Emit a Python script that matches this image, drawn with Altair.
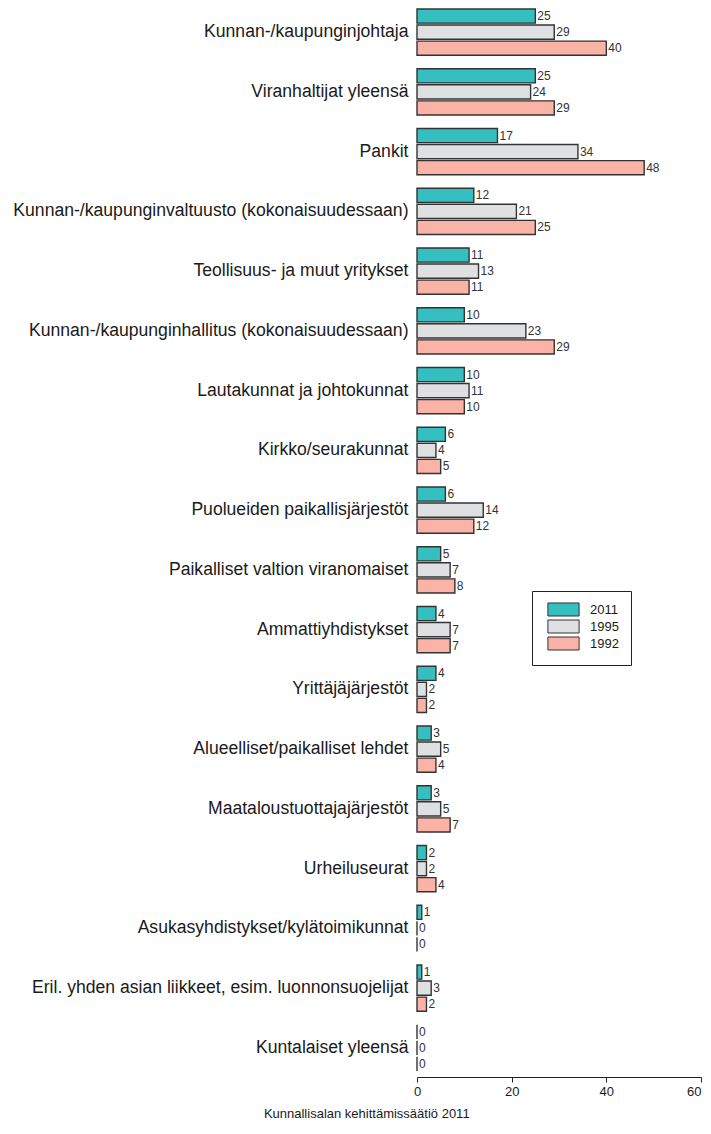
import altair as alt
import pandas as pd

categories = [
    "Kunnan-/kaupunginjohtaja",
    "Viranhaltijat yleensä",
    "Pankit",
    "Kunnan-/kaupunginvaltuusto (kokonaisuudessaan)",
    "Teollisuus- ja muut yritykset",
    "Kunnan-/kaupunginhallitus (kokonaisuudessaan)",
    "Lautakunnat ja johtokunnat",
    "Kirkko/seurakunnat",
    "Puolueiden paikallisjärjestöt",
    "Paikalliset valtion viranomaiset",
    "Ammattiyhdistykset",
    "Yrittäjäjärjestöt",
    "Alueelliset/paikalliset lehdet",
    "Maataloustuottajajärjestöt",
    "Urheiluseurat",
    "Asukasyhdistykset/kylätoimikunnat",
    "Eril. yhden asian liikkeet, esim. luonnonsuojelijat",
    "Kuntalaiset yleensä",
]
years = ["2011", "1995", "1992"]
v2011 = [25, 25, 17, 12, 11, 10, 10, 6, 6, 5, 4, 4, 3, 3, 2, 1, 1, 0]
v1995 = [29, 24, 34, 21, 13, 23, 11, 4, 14, 7, 7, 2, 5, 5, 2, 0, 3, 0]
v1992 = [40, 29, 48, 25, 11, 29, 10, 5, 12, 8, 7, 2, 4, 7, 4, 0, 2, 0]
colors = ["#35bfc0", "#dfe0e1", "#fab3a6"]
x_ticks = [0, 20, 40, 60]

rows = []
for yr, vals in zip(years, [v2011, v1995, v1992]):
    for c, v in zip(categories, vals):
        rows.append({"cat": c, "year": yr, "value": v})
df = pd.DataFrame(rows)

FONT = "Liberation Sans"

y_enc = alt.Y("cat:N", sort=categories, title=None,
              scale=alt.Scale(paddingInner=0.226, paddingOuter=0, round=False),
              axis=alt.Axis(domain=False, ticks=False, labelFontSize=17.6,
                            labelFont=FONT, labelColor="#1a1a1a",
                            labelPadding=9, labelLimit=600, minExtent=409))
yoff = alt.YOffset("year:N", sort=years,
                   scale=alt.Scale(paddingInner=0.12, paddingOuter=0, round=False))

bars = alt.Chart(df).mark_bar(stroke="#333333", strokeWidth=1.4).encode(
    x=alt.X("value:Q", scale=alt.Scale(domain=[0, 60], nice=False),
            title=None,
            axis=alt.Axis(values=x_ticks, grid=False, offset=6,
                          labelFlush=False,
                          labelAlign={"condition": {"test": "datum.value == 60",
                                                    "value": "right"},
                                      "value": "center"},
                          domainColor="#222", tickColor="#222", tickSize=5,
                          labelFontSize=13, labelFont=FONT,
                          labelColor="#1a1a1a", labelPadding=3)),
    y=y_enc,
    yOffset=yoff,
    fill=alt.Fill("year:N", sort=years,
                  scale=alt.Scale(domain=years, range=colors),
                  legend=alt.Legend(
                      title=None, orient="none", legendX=115, legendY=582,
                      symbolType="M-5.2,-2.17H5.2V2.17H-5.2Z", symbolSize=36,
                      symbolOffset=13,
                      symbolStrokeColor="#333", symbolStrokeWidth=1,
                      labelFontSize=13, labelFont=FONT,
                      labelColor="#1a1a1a", labelOffset=20, rowPadding=-2,
                      padding=12, strokeColor="#222", fillColor="white")),
)

labels = alt.Chart(df).mark_text(align="left", baseline="middle", dx=2,
                                 fontSize=12, font=FONT,
                                 color="#333").encode(
    x="value:Q",
    y=alt.Y("cat:N", sort=categories),
    yOffset=alt.YOffset("year:N", sort=years),
    text="value:Q",
)

chart = alt.layer(bars, labels).properties(
    width=284, height=1062,
    padding=0,
    title=alt.TitleParams("Kunnallisalan kehittämissäätiö 2011", orient="bottom",
                          anchor="middle", frame="bounds", dx=12, fontSize=13,
                          font=FONT, fontWeight="normal",
                          color="#1a1a1a", offset=10),
).configure_view(stroke=None)

chart.save("out.html", embed_options={"renderer": "svg", "actions": False})
